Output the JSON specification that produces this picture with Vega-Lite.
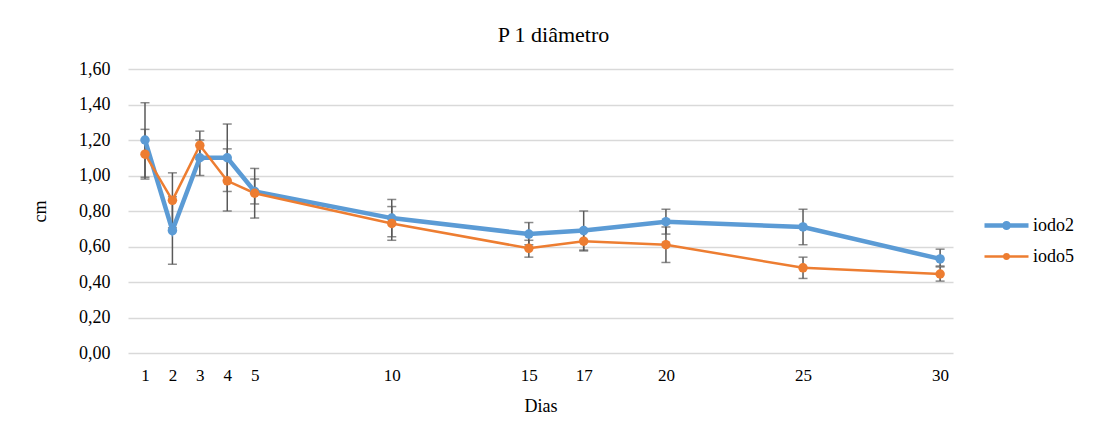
{
  "$schema": "https://vega.github.io/schema/vega-lite/v6.json",
  "autosize": "none",
  "width": 825,
  "height": 284,
  "padding": {"left": 128, "top": 69, "right": 153, "bottom": 79},
  "background": "white",
  "title": {"text": "P 1 diâmetro", "font": "'Liberation Serif', 'Times New Roman', Times, serif", "fontSize": 22, "fontWeight": "normal", "color": "#000000", "offset": 13, "dx": 13},
  "config": {
    "view": {"stroke": null},
    "font": "'Liberation Serif', 'Times New Roman', Times, serif",
    "axisY": {"labelOverlap": false}
  },
  "data": {"values": [
    {"dia": 1, "serie": "iodo2", "valor": 1.20, "min": 0.99, "max": 1.41},
    {"dia": 2, "serie": "iodo2", "valor": 0.69, "min": 0.50, "max": 0.88},
    {"dia": 3, "serie": "iodo2", "valor": 1.10, "min": 1.00, "max": 1.20},
    {"dia": 4, "serie": "iodo2", "valor": 1.10, "min": 0.91, "max": 1.29},
    {"dia": 5, "serie": "iodo2", "valor": 0.91, "min": 0.84, "max": 0.98},
    {"dia": 10, "serie": "iodo2", "valor": 0.76, "min": 0.655, "max": 0.865},
    {"dia": 15, "serie": "iodo2", "valor": 0.67, "min": 0.61, "max": 0.735},
    {"dia": 17, "serie": "iodo2", "valor": 0.69, "min": 0.58, "max": 0.80},
    {"dia": 20, "serie": "iodo2", "valor": 0.74, "min": 0.67, "max": 0.81},
    {"dia": 25, "serie": "iodo2", "valor": 0.71, "min": 0.61, "max": 0.81},
    {"dia": 30, "serie": "iodo2", "valor": 0.53, "min": 0.49, "max": 0.585},
    {"dia": 1, "serie": "iodo5", "valor": 1.12, "min": 0.98, "max": 1.26},
    {"dia": 2, "serie": "iodo5", "valor": 0.86, "min": 0.705, "max": 1.015},
    {"dia": 3, "serie": "iodo5", "valor": 1.17, "min": 1.09, "max": 1.25},
    {"dia": 4, "serie": "iodo5", "valor": 0.97, "min": 0.80, "max": 1.15},
    {"dia": 5, "serie": "iodo5", "valor": 0.90, "min": 0.76, "max": 1.04},
    {"dia": 10, "serie": "iodo5", "valor": 0.73, "min": 0.635, "max": 0.825},
    {"dia": 15, "serie": "iodo5", "valor": 0.59, "min": 0.54, "max": 0.635},
    {"dia": 17, "serie": "iodo5", "valor": 0.63, "min": 0.575, "max": 0.685},
    {"dia": 20, "serie": "iodo5", "valor": 0.61, "min": 0.51, "max": 0.71},
    {"dia": 25, "serie": "iodo5", "valor": 0.48, "min": 0.42, "max": 0.54},
    {"dia": 30, "serie": "iodo5", "valor": 0.445, "min": 0.405, "max": 0.485}
  ]},
  "encoding": {
    "x": {"field": "dia", "type": "quantitative",
      "scale": {"domain": [0.38, 30.47], "nice": false, "zero": false},
      "axis": {"title": "Dias", "values": [1, 2, 3, 4, 5, 10, 15, 17, 20, 25, 30], "grid": false, "domain": false, "ticks": false,
        "labelFont": "'Liberation Serif', 'Times New Roman', Times, serif", "labelFontSize": 17, "labelColor": "#000000", "labelPadding": 14, "labelFlush": false, "labelOverlap": false,
        "titleFont": "'Liberation Serif', 'Times New Roman', Times, serif", "titleFontSize": 18, "titleFontWeight": "normal", "titleColor": "#000000", "titlePadding": 14}}
  },
  "layer": [
    {
      "mark": {"type": "rule", "color": "#595959", "strokeWidth": 1.5},
      "encoding": {
        "y": {"field": "min", "type": "quantitative", "scale": {"domain": [0, 1.6], "nice": false},
          "axis": {"title": "cm", "values": [0, 0.2, 0.4, 0.6, 0.8, 1.0, 1.2, 1.4, 1.6],
            "labelExpr": "replace(format(datum.value, '.2f'), '.', ',')", "labelOverlap": false,
            "grid": true, "gridColor": "#d9d9d9", "gridWidth": 1.5, "domain": false, "ticks": false,
            "labelFont": "'Liberation Serif', 'Times New Roman', Times, serif", "labelFontSize": 18, "labelColor": "#000000", "labelPadding": 18,
            "titleFont": "'Liberation Serif', 'Times New Roman', Times, serif", "titleFontSize": 18, "titleFontWeight": "normal", "titleColor": "#000000", "titlePadding": 29}},
        "y2": {"field": "max"}
      }
    },
    {
      "mark": {"type": "tick", "orient": "horizontal", "color": "#595959", "thickness": 1.5, "size": 9},
      "encoding": {"y": {"field": "min", "type": "quantitative", "scale": {"domain": [0, 1.6], "nice": false},
          "axis": {"title": "cm", "values": [0, 0.2, 0.4, 0.6, 0.8, 1.0, 1.2, 1.4, 1.6],
            "labelExpr": "replace(format(datum.value, '.2f'), '.', ',')", "labelOverlap": false,
            "grid": true, "gridColor": "#d9d9d9", "gridWidth": 1.5, "domain": false, "ticks": false,
            "labelFont": "'Liberation Serif', 'Times New Roman', Times, serif", "labelFontSize": 18, "labelColor": "#000000", "labelPadding": 18,
            "titleFont": "'Liberation Serif', 'Times New Roman', Times, serif", "titleFontSize": 18, "titleFontWeight": "normal", "titleColor": "#000000", "titlePadding": 29}}}
    },
    {
      "mark": {"type": "tick", "orient": "horizontal", "color": "#595959", "thickness": 1.5, "size": 9},
      "encoding": {"y": {"field": "max", "type": "quantitative", "scale": {"domain": [0, 1.6], "nice": false},
          "axis": {"title": "cm", "values": [0, 0.2, 0.4, 0.6, 0.8, 1.0, 1.2, 1.4, 1.6],
            "labelExpr": "replace(format(datum.value, '.2f'), '.', ',')", "labelOverlap": false,
            "grid": true, "gridColor": "#d9d9d9", "gridWidth": 1.5, "domain": false, "ticks": false,
            "labelFont": "'Liberation Serif', 'Times New Roman', Times, serif", "labelFontSize": 18, "labelColor": "#000000", "labelPadding": 18,
            "titleFont": "'Liberation Serif', 'Times New Roman', Times, serif", "titleFontSize": 18, "titleFontWeight": "normal", "titleColor": "#000000", "titlePadding": 29}}}
    },
    {
      "mark": {"type": "line", "point": {"filled": true, "size": 90}},
      "encoding": {
        "y": {"field": "valor", "type": "quantitative",
          "scale": {"domain": [0, 1.6], "nice": false},
          "axis": {"title": "cm", "values": [0, 0.2, 0.4, 0.6, 0.8, 1.0, 1.2, 1.4, 1.6],
            "labelExpr": "replace(format(datum.value, '.2f'), '.', ',')", "labelOverlap": false,
            "grid": true, "gridColor": "#d9d9d9", "gridWidth": 1.5, "domain": false, "ticks": false,
            "labelFont": "'Liberation Serif', 'Times New Roman', Times, serif", "labelFontSize": 18, "labelColor": "#000000", "labelPadding": 18,
            "titleFont": "'Liberation Serif', 'Times New Roman', Times, serif", "titleFontSize": 18, "titleFontWeight": "normal", "titleColor": "#000000", "titlePadding": 29}},
        "color": {"field": "serie", "type": "nominal",
          "scale": {"domain": ["iodo2", "iodo5"], "range": ["#5b9bd5", "#ed7d31"]},
          "legend": {"title": null, "orient": "none", "legendX": 865, "legendY": 143,
            "symbolType": "M-2,0L2,0M-0.2,0A0.2,0.2,0,1,0,0.2,0A0.2,0.2,0,1,0,-0.2,0",
            "symbolSize": 484, "symbolStrokeWidth": 3.5, "rowPadding": 7,
            "labelFont": "'Liberation Serif', 'Times New Roman', Times, serif", "labelFontSize": 18, "labelColor": "#000000", "labelOffset": 13}},
        "strokeWidth": {"field": "serie", "type": "nominal", "scale": {"domain": ["iodo2", "iodo5"], "range": [4.5, 2.5]}, "legend": null}
      }
    }
  ]
}
